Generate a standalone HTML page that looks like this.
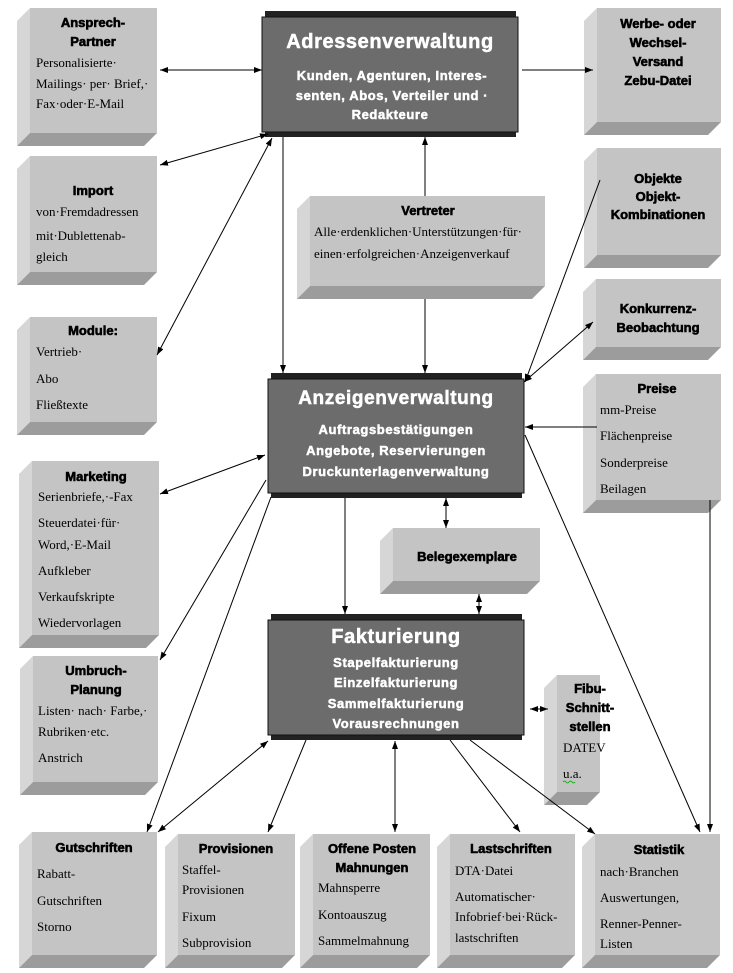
<!DOCTYPE html>
<html><head><meta charset="utf-8"><style>
html,body{margin:0;padding:0;background:#fff;}
svg{display:block;}
.h{font-family:"Liberation Sans",sans-serif;font-weight:bold;font-size:13px;fill:#000;stroke:#000;stroke-width:0.6;}
.t{font-family:"Liberation Serif",serif;font-size:13px;fill:#000;}
.w{font-family:"Liberation Sans",sans-serif;font-weight:bold;fill:#fff;letter-spacing:0.6px;stroke:#fff;stroke-width:0.5;}
.l{stroke:#000;stroke-width:1;fill:none;}
</style></head><body>
<svg width="733" height="973" viewBox="0 0 733 973" xmlns="http://www.w3.org/2000/svg">
<defs>
<marker id="a" markerWidth="8" markerHeight="6" refX="8" refY="3" orient="auto" markerUnits="userSpaceOnUse"><path d="M0,0 L8,3 L0,6 z" fill="#000"/></marker>
<marker id="s" markerWidth="8" markerHeight="6" refX="0" refY="3" orient="auto" markerUnits="userSpaceOnUse"><path d="M8,0 L0,3 L8,6 z" fill="#000"/></marker>
</defs>

<g id="boxes">
<polygon points="30,8 17,21 17,146 30,133" fill="#d6d6d6"/><polygon points="30,133 157,133 144,146 17,146" fill="#9c9c9c"/><rect x="30" y="8" width="127" height="125" fill="#c4c4c4"/>
<polygon points="30,156 17,169 17,285 30,272" fill="#d6d6d6"/><polygon points="30,272 157,272 144,285 17,285" fill="#9c9c9c"/><rect x="30" y="156" width="127" height="116" fill="#c4c4c4"/>
<polygon points="30,317 17,330 17,435 30,422" fill="#d6d6d6"/><polygon points="30,422 157,422 144,435 17,435" fill="#9c9c9c"/><rect x="30" y="317" width="127" height="105" fill="#c4c4c4"/>
<polygon points="32,461 19,474 19,648 32,635" fill="#d6d6d6"/><polygon points="32,635 159,635 146,648 19,648" fill="#9c9c9c"/><rect x="32" y="461" width="127" height="174" fill="#c4c4c4"/>
<polygon points="33,656 20,669 20,795 33,782" fill="#d6d6d6"/><polygon points="33,782 158,782 145,795 20,795" fill="#9c9c9c"/><rect x="33" y="656" width="125" height="126" fill="#c4c4c4"/>
<polygon points="32,832 19,845 19,968 32,955" fill="#d6d6d6"/><polygon points="32,955 157,955 144,968 19,968" fill="#9c9c9c"/><rect x="32" y="832" width="125" height="123" fill="#c4c4c4"/>
<polygon points="178,834 165,847 165,968 178,955" fill="#d6d6d6"/><polygon points="178,955 295,955 282,968 165,968" fill="#9c9c9c"/><rect x="178" y="834" width="117" height="121" fill="#c4c4c4"/>
<polygon points="313,834 300,847 300,968 313,955" fill="#d6d6d6"/><polygon points="313,955 430,955 417,968 300,968" fill="#9c9c9c"/><rect x="313" y="834" width="117" height="121" fill="#c4c4c4"/>
<polygon points="450,834 437,847 437,968 450,955" fill="#d6d6d6"/><polygon points="450,955 575,955 562,968 437,968" fill="#9c9c9c"/><rect x="450" y="834" width="125" height="121" fill="#c4c4c4"/>
<polygon points="595,834 582,847 582,968 595,955" fill="#d6d6d6"/><polygon points="595,955 720,955 707,968 582,968" fill="#9c9c9c"/><rect x="595" y="834" width="125" height="121" fill="#c4c4c4"/>
<polygon points="597,8 584,21 584,135 597,122" fill="#d6d6d6"/><polygon points="597,122 721,122 708,135 584,135" fill="#9c9c9c"/><rect x="597" y="8" width="124" height="114" fill="#c4c4c4"/>
<polygon points="597,148 584,161 584,268 597,255" fill="#d6d6d6"/><polygon points="597,255 721,255 708,268 584,268" fill="#9c9c9c"/><rect x="597" y="148" width="124" height="107" fill="#c4c4c4"/>
<polygon points="596,279 583,292 583,360 596,347" fill="#d6d6d6"/><polygon points="596,347 721,347 708,360 583,360" fill="#9c9c9c"/><rect x="596" y="279" width="125" height="68" fill="#c4c4c4"/>
<polygon points="596,374 583,387 583,513 596,500" fill="#d6d6d6"/><polygon points="596,500 721,500 708,513 583,513" fill="#9c9c9c"/><rect x="596" y="374" width="125" height="126" fill="#c4c4c4"/>
<polygon points="557,675 544,688 544,805 557,792" fill="#d6d6d6"/><polygon points="557,792 600,792 587,805 544,805" fill="#9c9c9c"/><rect x="557" y="675" width="43" height="117" fill="#c4c4c4"/>
<polygon points="310,196 297,209 297,299 310,286" fill="#d6d6d6"/><polygon points="310,286 545,286 532,299 297,299" fill="#9c9c9c"/><rect x="310" y="196" width="235" height="90" fill="#c4c4c4"/>
<polygon points="393,528 380,541 380,594 393,581" fill="#d6d6d6"/><polygon points="393,581 540,581 527,594 380,594" fill="#9c9c9c"/><rect x="393" y="528" width="147" height="53" fill="#c4c4c4"/>
</g>

<rect x="265" y="11" width="251" height="126" fill="#222"/>
<rect x="262" y="17" width="256" height="115" fill="#6c6c6c" stroke="#111"/>
<rect x="271" y="373" width="251" height="125" fill="#222"/>
<rect x="268" y="379" width="256" height="114" fill="#6c6c6c" stroke="#111"/>
<rect x="271" y="614" width="251" height="126" fill="#222"/>
<rect x="268" y="620" width="256" height="115" fill="#6c6c6c" stroke="#111"/>

<line class="l" x1="160" y1="70" x2="262" y2="70" marker-start="url(#s)" marker-end="url(#a)"/>
<line class="l" x1="522" y1="70" x2="593" y2="70" marker-end="url(#a)" stroke="#555"/>
<line class="l" x1="160" y1="165" x2="268" y2="134" marker-start="url(#s)" marker-end="url(#a)"/>
<line class="l" x1="157" y1="355" x2="272" y2="138" marker-start="url(#s)" marker-end="url(#a)"/>
<line class="l" x1="283" y1="137" x2="283" y2="373" marker-end="url(#a)"/>
<line class="l" x1="425" y1="196" x2="425" y2="137" marker-end="url(#a)"/>
<line class="l" x1="425" y1="299" x2="425" y2="373" marker-end="url(#a)"/>
<line class="l" x1="600" y1="180" x2="525" y2="382" marker-end="url(#a)"/>
<line class="l" x1="593" y1="322" x2="524" y2="382" marker-start="url(#s)" marker-end="url(#a)"/>
<line class="l" x1="597" y1="427" x2="525" y2="427" marker-end="url(#a)"/>
<line class="l" x1="525" y1="435" x2="700" y2="832" marker-end="url(#a)"/>
<line class="l" x1="710" y1="500" x2="710" y2="832" marker-end="url(#a)"/>
<line class="l" x1="160" y1="494" x2="265" y2="455" marker-start="url(#s)" marker-end="url(#a)"/>
<line class="l" x1="266" y1="480" x2="160" y2="660" marker-end="url(#a)"/>
<line class="l" x1="271" y1="497" x2="147" y2="832" marker-end="url(#a)"/>
<line class="l" x1="268" y1="741" x2="158" y2="832" marker-start="url(#s)" marker-end="url(#a)"/>
<line class="l" x1="345" y1="498" x2="345" y2="614" marker-end="url(#a)"/>
<line class="l" x1="446" y1="498" x2="446" y2="528" marker-start="url(#s)" marker-end="url(#a)"/>
<line class="l" x1="479" y1="594" x2="479" y2="614" marker-start="url(#s)" marker-end="url(#a)"/>
<line class="l" x1="530" y1="709" x2="548" y2="709" marker-start="url(#s)" marker-end="url(#a)"/>
<line class="l" x1="306" y1="740" x2="268" y2="832" marker-end="url(#a)"/>
<line class="l" x1="395" y1="741" x2="395" y2="832" marker-start="url(#s)" marker-end="url(#a)"/>
<line class="l" x1="450" y1="740" x2="520" y2="832" marker-end="url(#a)"/>
<line class="l" x1="470" y1="740" x2="595" y2="834" marker-end="url(#a)"/>

<text class="w" x="390" y="48" text-anchor="middle" font-size="20" stroke-width="0.8">Adressenverwaltung</text>
<text class="w" x="392" y="80" text-anchor="middle" font-size="13">Kunden, Agenturen, Interes-</text>
<text class="w" x="392" y="100" text-anchor="middle" font-size="13">senten, Abos, Verteiler und ·</text>
<text class="w" x="390" y="119" text-anchor="middle" font-size="13">Redakteure</text>

<text class="w" x="396" y="404" text-anchor="middle" font-size="19" stroke-width="0.8">Anzeigenverwaltung</text>
<text class="w" x="396" y="434" text-anchor="middle" font-size="13">Auftragsbestätigungen</text>
<text class="w" x="396" y="455" text-anchor="middle" font-size="13">Angebote, Reservierungen</text>
<text class="w" x="396" y="476" text-anchor="middle" font-size="13">Druckunterlagenverwaltung</text>

<text class="w" x="396" y="643" text-anchor="middle" font-size="20" stroke-width="0.8">Fakturierung</text>
<text class="w" x="396" y="667" text-anchor="middle" font-size="13">Stapelfakturierung</text>
<text class="w" x="396" y="687" text-anchor="middle" font-size="13">Einzelfakturierung</text>
<text class="w" x="396" y="708" text-anchor="middle" font-size="13">Sammelfakturierung</text>
<text class="w" x="396" y="728" text-anchor="middle" font-size="13">Vorausrechnungen</text>

<text class="h" x="93" y="27" text-anchor="middle">Ansprech-</text>
<text class="h" x="93" y="46" text-anchor="middle">Partner</text>
<text class="t" x="36" y="67">Personalisierte·</text>
<text class="t" x="36" y="88">Mailings· per· Brief,·</text>
<text class="t" x="36" y="108">Fax·oder·E-Mail</text>

<text class="h" x="93" y="195" text-anchor="middle">Import</text>
<text class="t" x="36" y="216">von·Fremdadressen</text>
<text class="t" x="36" y="240">mit·Dublettenab-</text>
<text class="t" x="36" y="261">gleich</text>

<text class="h" x="93" y="335" text-anchor="middle">Module:</text>
<text class="t" x="36" y="356">Vertrieb·</text>
<text class="t" x="36" y="383">Abo</text>
<text class="t" x="36" y="409">Fließtexte</text>

<text class="h" x="96" y="481" text-anchor="middle">Marketing</text>
<text class="t" x="38" y="501">Serienbriefe,·-Fax</text>
<text class="t" x="38" y="527">Steuerdatei·für·</text>
<text class="t" x="38" y="549">Word,·E-Mail</text>
<text class="t" x="38" y="575">Aufkleber</text>
<text class="t" x="38" y="601">Verkaufskripte</text>
<text class="t" x="38" y="627">Wiedervorlagen</text>

<text class="h" x="96" y="675" text-anchor="middle">Umbruch-</text>
<text class="h" x="96" y="694" text-anchor="middle">Planung</text>
<text class="t" x="38" y="715">Listen· nach· Farbe,·</text>
<text class="t" x="38" y="736">Rubriken·etc.</text>
<text class="t" x="38" y="762">Anstrich</text>

<text class="h" x="94" y="852" text-anchor="middle">Gutschriften</text>
<text class="t" x="37" y="878">Rabatt-</text>
<text class="t" x="37" y="905">Gutschriften</text>
<text class="t" x="37" y="931">Storno</text>

<text class="h" x="236" y="853" text-anchor="middle">Provisionen</text>
<text class="t" x="182" y="874">Staffel-</text>
<text class="t" x="182" y="894">Provisionen</text>
<text class="t" x="182" y="921">Fixum</text>
<text class="t" x="182" y="947">Subprovision</text>

<text class="h" x="372" y="853" text-anchor="middle">Offene Posten</text>
<text class="h" x="372" y="872" text-anchor="middle">Mahnungen</text>
<text class="t" x="318" y="892">Mahnsperre</text>
<text class="t" x="318" y="919">Kontoauszug</text>
<text class="t" x="318" y="945">Sammelmahnung</text>

<text class="h" x="511" y="853" text-anchor="middle">Lastschriften</text>
<text class="t" x="455" y="875">DTA·Datei</text>
<text class="t" x="455" y="901">Automatischer·</text>
<text class="t" x="455" y="921">Infobrief·bei·Rück-</text>
<text class="t" x="455" y="942">lastschriften</text>

<text class="h" x="659" y="854" font-size="15" text-anchor="middle">Statistik</text>
<text class="t" x="600" y="876">nach·Branchen</text>
<text class="t" x="600" y="902">Auswertungen,</text>
<text class="t" x="600" y="928">Renner-Penner-</text>
<text class="t" x="600" y="948">Listen</text>

<text class="h" x="658" y="28" text-anchor="middle">Werbe- oder</text>
<text class="h" x="658" y="47" text-anchor="middle">Wechsel-</text>
<text class="h" x="658" y="66" text-anchor="middle">Versand</text>
<text class="h" x="658" y="85" text-anchor="middle">Zebu-Datei</text>

<text class="h" x="658" y="183" text-anchor="middle">Objekte</text>
<text class="h" x="658" y="201" text-anchor="middle">Objekt-</text>
<text class="h" x="658" y="219" text-anchor="middle">Kombinationen</text>

<text class="h" x="658" y="313" text-anchor="middle">Konkurrenz-</text>
<text class="h" x="658" y="332" text-anchor="middle">Beobachtung</text>

<text class="h" x="657" y="393" text-anchor="middle">Preise</text>
<text class="t" x="600" y="414">mm-Preise</text>
<text class="t" x="600" y="440">Flächenpreise</text>
<text class="t" x="600" y="467">Sonderpreise</text>
<text class="t" x="600" y="493">Beilagen</text>

<text class="h" x="590" y="693" text-anchor="middle">Fibu-</text>
<text class="h" x="590" y="712" text-anchor="middle">Schnitt-</text>
<text class="h" x="590" y="731" text-anchor="middle">stellen</text>
<text class="t" x="563" y="752">DATEV</text>
<text class="t" x="563" y="778">u.a.</text>
<path d="M563,782 q1.5,-2 3,0 t3,0 t3,0 t3,0" stroke="#0a0" fill="none" stroke-width="0.8"/>

<text class="h" x="428" y="215" text-anchor="middle">Vertreter</text>
<text class="t" x="314" y="236">Alle·erdenklichen·Unterstützungen·für·</text>
<text class="t" x="314" y="258">einen·erfolgreichen·Anzeigenverkauf</text>

<text class="h" x="467" y="561" text-anchor="middle">Belegexemplare</text>
</svg>
</body></html>
